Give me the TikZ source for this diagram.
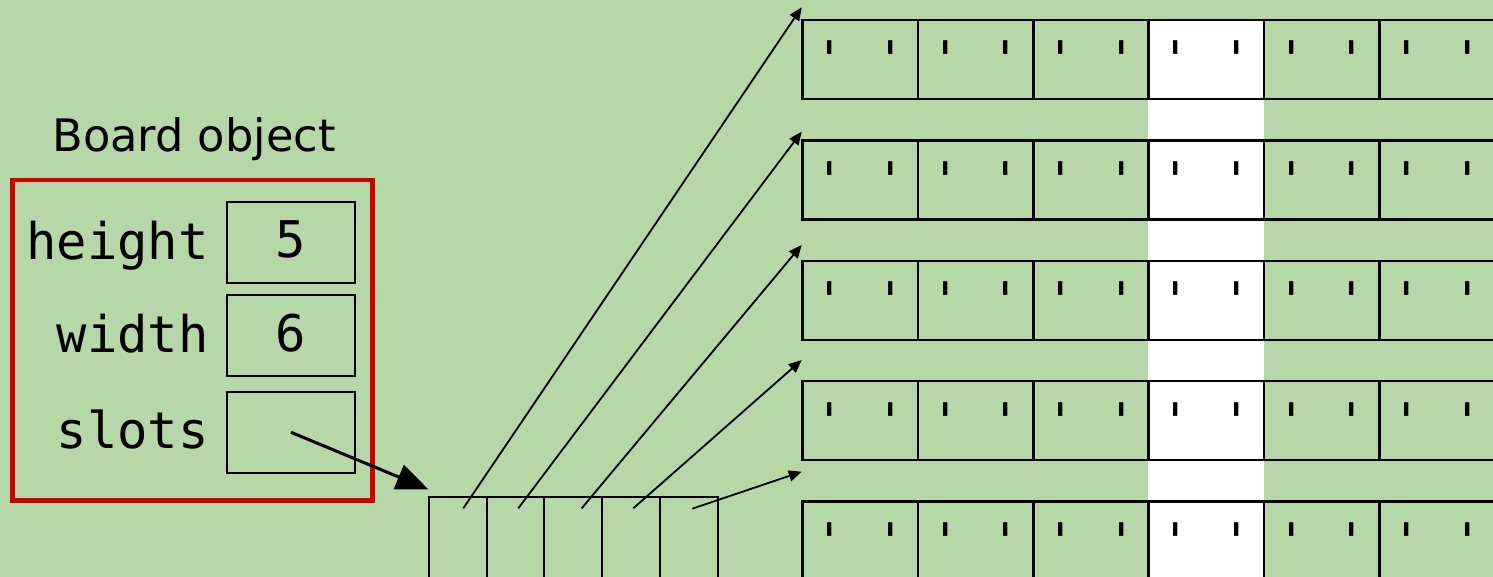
\documentclass[tikz,border=0pt]{standalone}
\usepackage{fontspec}
\newfontfamily\monof[Ligatures=TeXOff]{DejaVu Sans Mono}
\newfontfamily\sansf{DejaVu Sans}
\usetikzlibrary{arrows.meta}
\definecolor{bg}{HTML}{B6D7A8}
\definecolor{boxred}{HTML}{CC0000}
\begin{document}
\begin{tikzpicture}[x=1pt,y=-1pt,
  rowcell/.style={draw=black, line width=2.5pt, minimum width=115.33pt, minimum height=79pt,
    inner sep=0pt, outer sep=0pt, anchor=north west, text height=58pt, text depth=21pt,
    font=\monof\fontsize{50.5}{58}\selectfont},
  slotcell/.style={draw=black, line width=2pt, minimum width=57.7pt, minimum height=140pt,
    inner sep=0pt, outer sep=0pt, anchor=north west},
  valbox/.style={draw=black, line width=2pt, minimum width=128pt, minimum height=81pt,
    inner sep=0pt, outer sep=0pt, text height=56.3pt, text depth=24.7pt,
    font=\monof\fontsize{50.5}{58}\selectfont},
  fieldlabel/.style={anchor=base east, inner sep=0pt, font=\monof\fontsize{50.5}{58}\selectfont},
  ptr/.style={line width=1.8pt, -{Triangle[length=13pt,width=11pt]}},
  bigptr/.style={line width=3pt, -{Triangle[length=32pt,width=26pt]}},
]
\clip (0,0) rectangle (1493,577);
\fill[bg] (0,0) rectangle (1493,577);
% white column
\fill[white] (1148.3,20) rectangle (1264,600);

% title
\node[anchor=base, inner sep=0pt, font=\sansf\fontsize{44.7}{52}\selectfont] (title) at (194,152) {Board object};

% board object box
\node[draw=boxred, line width=4.5pt, minimum width=360pt, minimum height=320.5pt, inner sep=0pt] (board) at (192.5,340.25) {};

% fields
\node[fieldlabel] (lh) at (209,260) {height};
\node[fieldlabel] (lw) at (209,352) {width};
\node[fieldlabel] (ls) at (209,448) {slots};
\node[valbox] (vh) at (291,242.2) {5};
\node[valbox] (vw) at (291,335.7) {6};
\node[valbox] (vs) at (291,432.3) {};

% slots array
\foreach \i in {1,...,5}{
  \node[slotcell] (s\i) at ({429+57.7*(\i-1)},497.3) {};
}

% rows
\foreach \r in {1,...,5}{
  \foreach \c in {1,...,6}{
    \node[rowcell] (r\r c\c) at ({802.7+115.33*(\c-1)},{20+120.4*(\r-1)}) {' '};
  }
}

% pointer from slots
\coordinate (stip) at (428.3,489.3);
\draw[bigptr] (vs.center) -- (stip);

% row pointers
\coordinate (a1) at (463.3,508.3);
\coordinate (a2) at (518.3,508.3);
\coordinate (a3) at (581.7,508.3);
\coordinate (a4) at (633.3,508.3);
\coordinate (a5) at (692.3,508.7);
\coordinate (t1) at (801.7,7.3);
\coordinate (t2) at (801.7,131.7);
\coordinate (t3) at (801.7,245);
\coordinate (t4) at (801.7,360);
\coordinate (t5) at (801.7,471.7);
\foreach \i in {1,...,5}{
  \draw[ptr] (a\i) -- (t\i);
}
\end{tikzpicture}
\end{document}
